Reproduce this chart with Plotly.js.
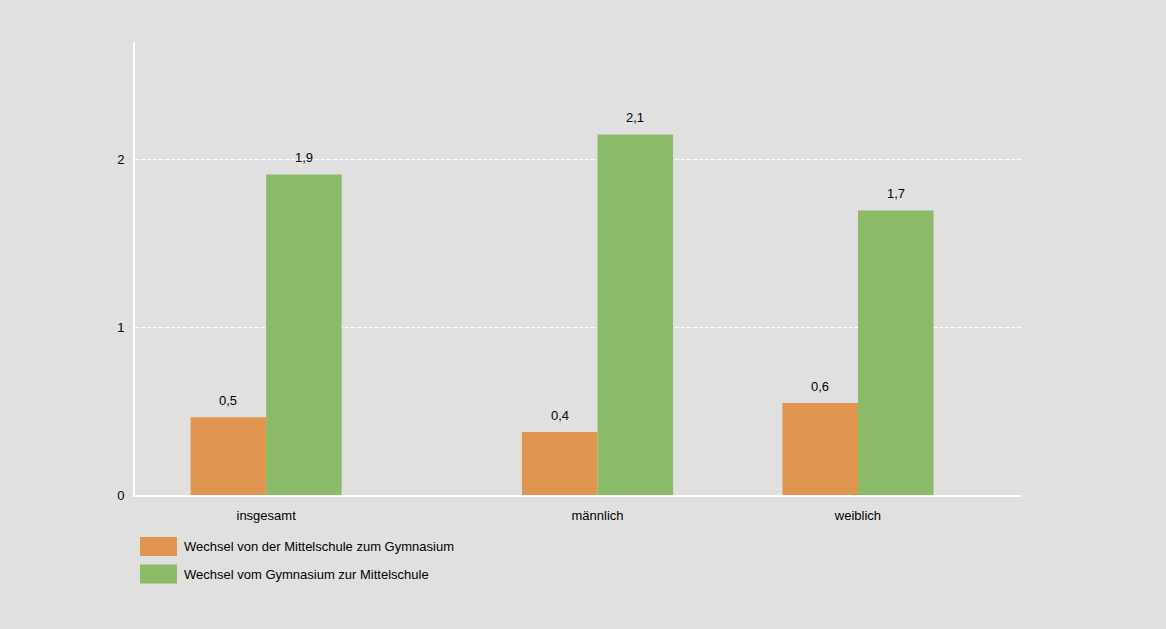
<!DOCTYPE html>
<html><head><meta charset="utf-8">
<script src="https://cdn.plot.ly/plotly-3.0.1.min.js"></script>
<style>html,body{margin:0;padding:0;background:#e0e0e0;}#chart{width:1166px;height:629px;}</style>
</head><body><div id="chart"></div>
<script>
const categories = ["insgesamt", "männlich", "weiblich"];
const seriesNames = ["Wechsel von der Mittelschule zum Gymnasium", "Wechsel vom Gymnasium zur Mittelschule"];
const valuesMS2GY = [0.464, 0.375, 0.548];
const valuesGY2MS = [1.91, 2.149, 1.696];
const labelsMS2GY = ["0,5", "0,4", "0,6"];
const labelsGY2MS = ["1,9", "2,1", "1,7"];
const yTicks = [0, 1, 2];

// layout config (positions)
const W = 1166, H = 629, L = 135, R = 1021, T = 42, B = 495;
const groupPos = [0.148, 0.522, 0.816];
const barW = 0.0853;
const colors = ["#e09650", "#8bba68"];
const font = {family: "Liberation Sans, Arial, sans-serif", size: 13, color: "#000"};

const px2x = p => (p - L) / (R - L);
const px2y = p => (B - p) / (B - T);

const traces = [
  {type: "bar", x: groupPos, y: valuesMS2GY, width: barW, offset: -barW, marker: {color: colors[0]}, name: seriesNames[0], hoverinfo: "none"},
  {type: "bar", x: groupPos, y: valuesGY2MS, width: barW, offset: 0, marker: {color: colors[1]}, name: seriesNames[1], hoverinfo: "none"}
];

const annotations = [];
groupPos.forEach((g, i) => {
  annotations.push({x: g - barW / 2, y: valuesMS2GY[i], xref: "x", yref: "y", text: labelsMS2GY[i], showarrow: false, yshift: 17, font});
  annotations.push({x: g + barW / 2, y: valuesGY2MS[i], xref: "x", yref: "y", text: labelsGY2MS[i], showarrow: false, yshift: 17, font});
});
const shapes = [];
const legendY = [546.5, 574];
seriesNames.forEach((n, i) => {
  shapes.push({type: "rect", xref: "paper", yref: "paper", x0: px2x(140), x1: px2x(177), y0: px2y(legendY[i] - 9.5), y1: px2y(legendY[i] + 9.5), fillcolor: colors[i], line: {width: 0}});
  annotations.push({xref: "paper", yref: "paper", x: px2x(182), y: px2y(legendY[i]), xanchor: "left", yanchor: "middle", text: n, showarrow: false, font});
});

const layout = {
  width: W, height: H,
  paper_bgcolor: "#e0e0e0", plot_bgcolor: "#e0e0e0",
  margin: {l: L, r: W - R, t: T, b: H - B, pad: 0},
  font,
  showlegend: false,
  barmode: "overlay",
  xaxis: {range: [0, 1], tickvals: groupPos, ticktext: categories, showgrid: false, zeroline: false,
          showline: true, linecolor: "#ffffff", linewidth: 2, ticks: "", ticklabelstandoff: 7, fixedrange: true},
  yaxis: {range: [0, 2.7], tickvals: yTicks, ticktext: yTicks.map(String), showgrid: true, gridcolor: "#ffffff",
          griddash: "4px,2px", gridwidth: 1, zeroline: false, showline: true, linecolor: "#ffffff", linewidth: 2,
          ticks: "", ticklabelstandoff: 6, fixedrange: true},
  annotations, shapes
};
Plotly.newPlot("chart", traces, layout, {displayModeBar: false, staticPlot: true});
</script></body></html>
